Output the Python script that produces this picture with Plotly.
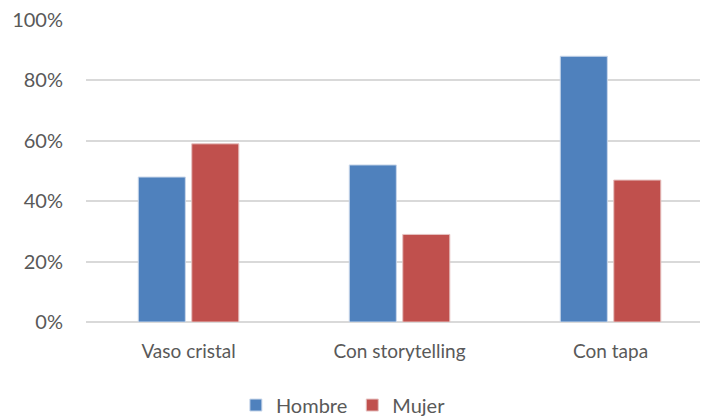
import plotly.graph_objects as go

categories = ["Vaso cristal", "Con storytelling", "Con tapa"]
hombre = [0.48, 0.52, 0.88]
mujer = [0.59, 0.29, 0.47]

FONT = "Lato"
GRAY = "#595959"

fig = go.Figure()
fig.add_trace(go.Bar(
    x=categories, y=hombre, name="Hombre",
    marker=dict(color="#4f81bd", line=dict(color="#c9d7ea", width=1)),
))
fig.add_trace(go.Bar(
    x=categories, y=mujer, name="Mujer",
    marker=dict(color="#c0504d", line=dict(color="#e6c2c1", width=1)),
))

fig.update_layout(
    width=708, height=416,
    margin=dict(l=86, r=8, t=20, b=94, autoexpand=False),
    paper_bgcolor="white", plot_bgcolor="white",
    barmode="group", bargap=0.493, bargroupgap=0.12,
    font=dict(family=FONT, size=19, color=GRAY),
    showlegend=True,
    legend=dict(orientation="h", xref="container", x=0.485, xanchor="center",
                y=-0.275, yanchor="middle",
                font=dict(size=20, color=GRAY), itemwidth=30,
                tracegroupgap=0, traceorder="normal"),
    xaxis=dict(range=[-0.486, 2.424], showgrid=False, showline=False, zeroline=False,
               ticks="", ticklabelstandoff=16, tickfont=dict(size=19, color=GRAY)),
    yaxis=dict(range=[0, 1.0], dtick=0.2, tickformat=".0%", showgrid=True,
               gridcolor="#d9d9d9", gridwidth=1.5, zeroline=True,
               zerolinecolor="#d9d9d9", zerolinewidth=1.5, showline=False,
               ticks="", ticklabelstandoff=22, tickfont=dict(size=20, color=GRAY)),
)

fig.write_html("out.html")
